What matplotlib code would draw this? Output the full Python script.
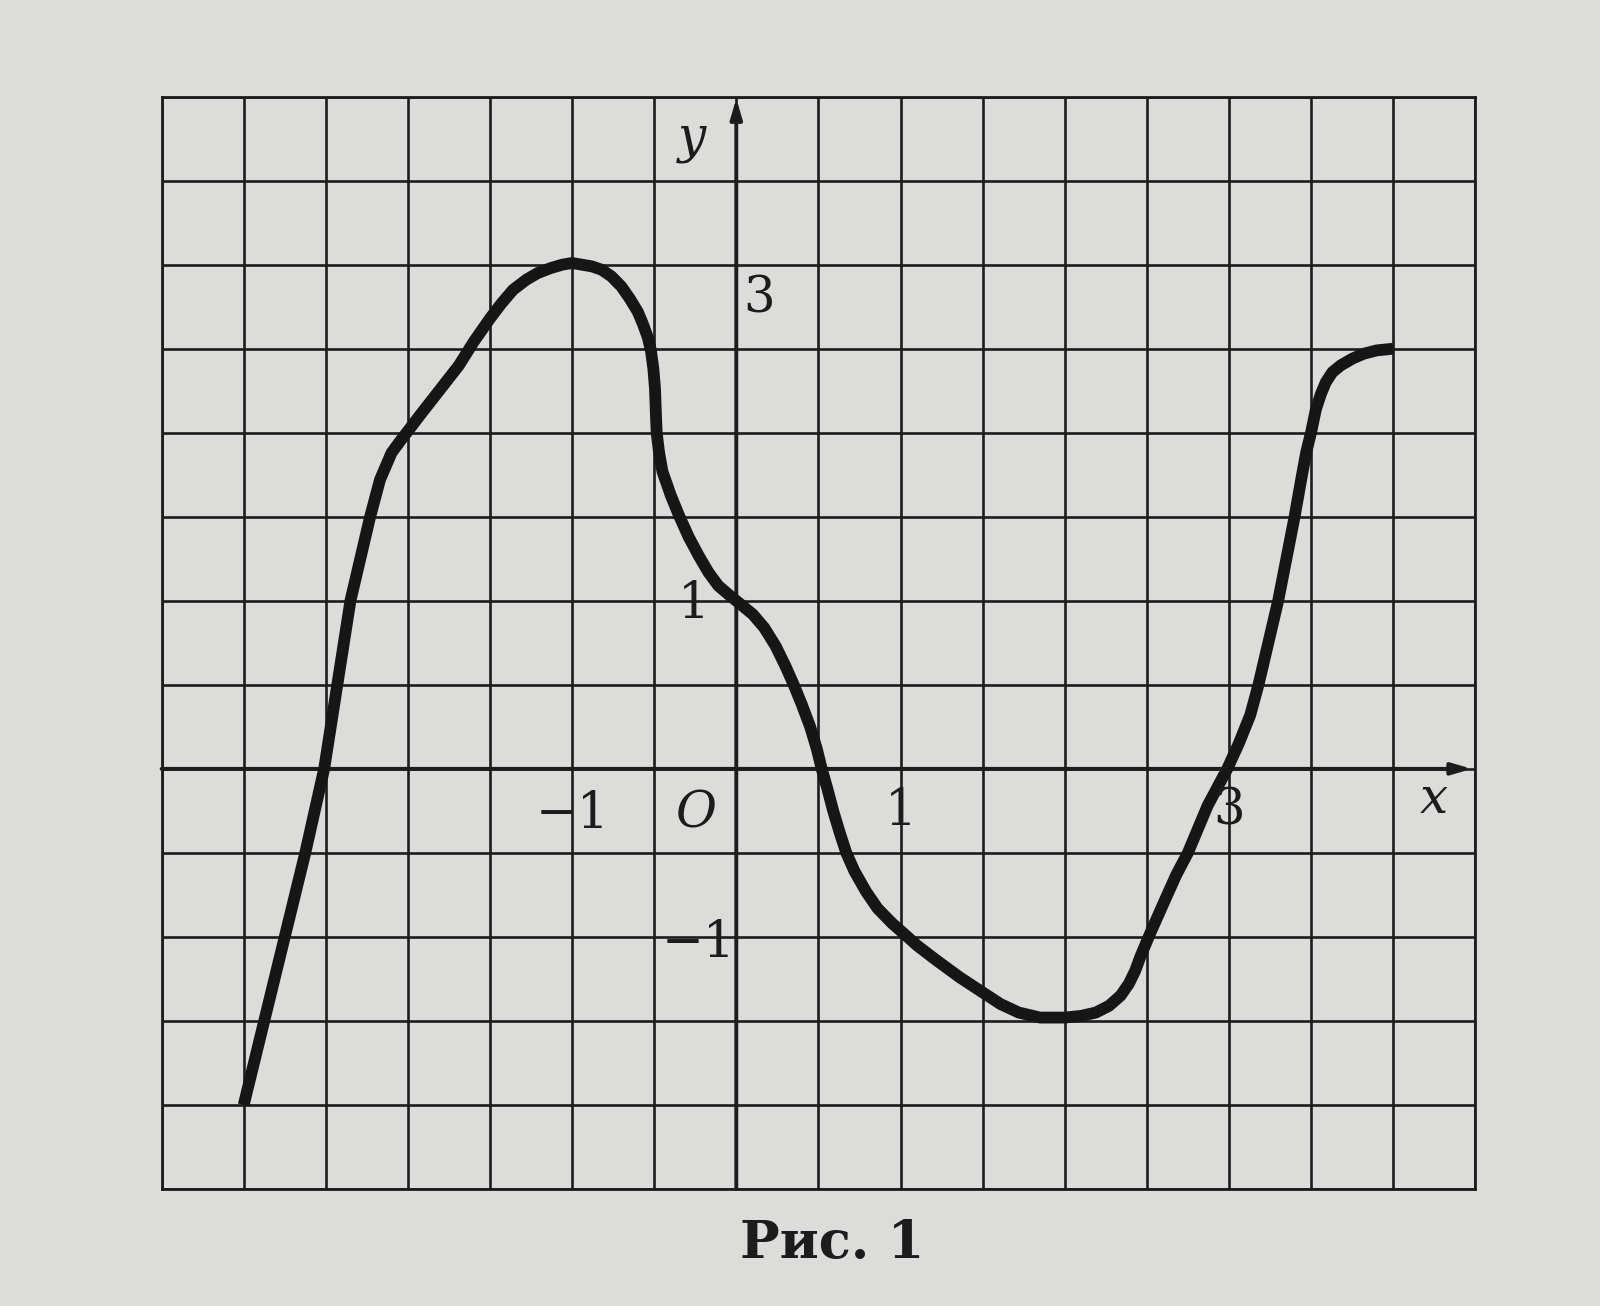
import matplotlib
matplotlib.use("Agg")
import matplotlib.pyplot as plt
import numpy as np

# Curve points (x, y)
curve_x = [-3.0, -2.75, -2.625, -2.51, -2.43, -2.35, -2.29, -2.23, -2.17, -2.1,
           -2.04, -2.0, -1.93, -1.85, -1.77, -1.69, -1.6, -1.5, -1.43, -1.36,
           -1.28, -1.21, -1.13, -1.06, -1.0, -0.94, -0.88, -0.82, -0.76, -0.7,
           -0.65, -0.6, -0.57, -0.54, -0.52, -0.505, -0.495, -0.49, -0.485, -0.47,
           -0.45, -0.4, -0.35, -0.29, -0.23, -0.17, -0.11, -0.05, 0.0, 0.05,
           0.1, 0.17, 0.24, 0.3, 0.35, 0.4, 0.45, 0.49, 0.52, 0.555,
           0.59, 0.63, 0.67, 0.72, 0.79, 0.86, 0.95, 1.02, 1.1, 1.22,
           1.36, 1.5, 1.61, 1.72, 1.85, 2.0, 2.1, 2.19, 2.27, 2.34,
           2.39, 2.43, 2.46, 2.49, 2.52, 2.57, 2.62, 2.68, 2.75, 2.81,
           2.87, 2.93, 2.99, 3.06, 3.13, 3.18, 3.24, 3.3, 3.35, 3.4,
           3.44, 3.47, 3.5, 3.53, 3.56, 3.59, 3.63, 3.68, 3.75, 3.82,
           3.9, 4.0]
curve_y = [-2.0, -1.0, -0.5, 0.0, 0.5, 1.0, 1.25, 1.5, 1.72, 1.88,
           1.96, 2.01, 2.1, 2.2, 2.3, 2.4, 2.54, 2.68, 2.77, 2.85,
           2.91, 2.95, 2.98, 3.0, 3.01, 3.0, 2.99, 2.97, 2.93, 2.87,
           2.8, 2.72, 2.65, 2.57, 2.49, 2.38, 2.26, 2.12, 2.0, 1.88,
           1.77, 1.63, 1.51, 1.38, 1.27, 1.17, 1.09, 1.04, 1.0, 0.96,
           0.92, 0.84, 0.73, 0.61, 0.5, 0.38, 0.25, 0.12, 0.0, -0.12,
           -0.25, -0.38, -0.5, -0.61, -0.73, -0.83, -0.92, -0.98, -1.05, -1.14,
           -1.24, -1.33, -1.4, -1.45, -1.48, -1.48, -1.47, -1.45, -1.41, -1.35,
           -1.28, -1.2, -1.12, -1.05, -0.98, -0.87, -0.76, -0.63, -0.5, -0.36,
           -0.22, -0.11, 0.0, 0.15, 0.32, 0.5, 0.75, 1.0, 1.25, 1.5,
           1.72, 1.88, 2.0, 2.14, 2.23, 2.3, 2.36, 2.4, 2.44, 2.47,
           2.49, 2.5]

x_min, x_max = -3.5, 4.5
y_min, y_max = -2.5, 4.0
grid_step = 0.5

# Axis labels: (text, x, y)
labels_text = ["y", "x", "3", "1", "\u22121", "O", "1", "3", "\u22121"]
labels_x = [-0.27, 4.25, 0.14, -0.26, -1.0, -0.25, 1.0, 3.0, -0.23]
labels_y = [3.75, -0.18, 2.8, 0.98, -0.27, -0.27, -0.25, -0.25, -1.04]
labels_italic = [True, True, False, False, False, True, False, False, False]

caption = "Рис. 1"

paper = "#dcdcda"
ink = "#1c1c1c"

fig = plt.figure(figsize=(16, 13.06), dpi=100, facecolor=paper)
ax = fig.add_axes([0.101, 0.0896, 0.821, 0.8364])
ax.set_facecolor(paper)
ax.set_xlim(x_min, x_max)
ax.set_ylim(y_min, y_max)

# grid
for gx in np.arange(x_min, x_max + 1e-9, grid_step):
    ax.axvline(gx, color=ink, lw=1.9, zorder=1)
for gy in np.arange(y_min, y_max + 1e-9, grid_step):
    ax.axhline(gy, color=ink, lw=1.9, zorder=1)

for s in ax.spines.values():
    s.set_color(ink)
    s.set_linewidth(2.0)
ax.set_xticks([])
ax.set_yticks([])

# coordinate axes with arrows
ax.annotate("", xy=(x_max - 0.02, 0), xytext=(x_min, 0),
            arrowprops=dict(arrowstyle="-|>,head_length=1.2,head_width=0.35",
                            color=ink, lw=2.8, shrinkA=0, shrinkB=0), zorder=3)
ax.annotate("", xy=(0, y_max - 0.01), xytext=(0, y_min),
            arrowprops=dict(arrowstyle="-|>,head_length=1.2,head_width=0.35",
                            color=ink, lw=2.8, shrinkA=0, shrinkB=0), zorder=3)

# curve
ax.plot(curve_x, curve_y, color="#161616", lw=8.5, solid_capstyle="butt",
        solid_joinstyle="round", zorder=4)

for t, lx, ly, it in zip(labels_text, labels_x, labels_y, labels_italic):
    ax.text(lx, ly, t, fontsize=36, family="DejaVu Serif",
            style="italic" if it else "normal", color=ink,
            ha="center", va="center", zorder=5)

fig.text(0.52, 0.048, caption, fontsize=38, family="DejaVu Serif",
         weight="bold", color=ink, ha="center", va="center")

fig.savefig("out.png", dpi=100, facecolor=paper)
